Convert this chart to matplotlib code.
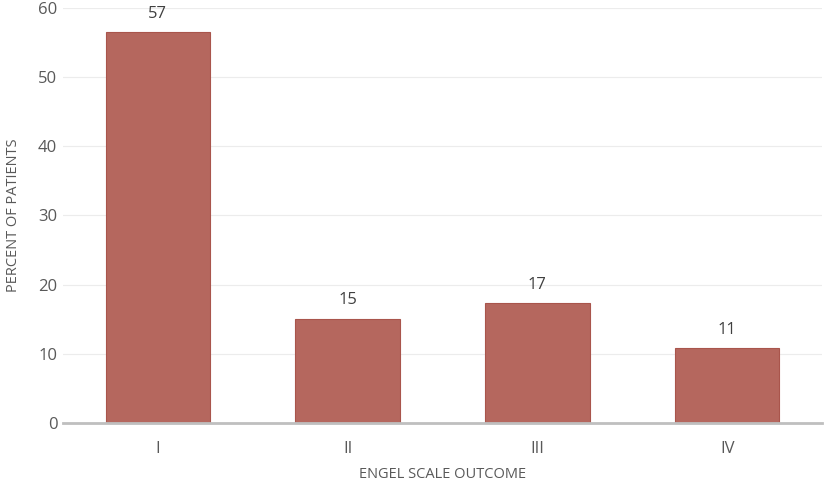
import matplotlib.pyplot as plt

categories = ['I', 'II', 'III', 'IV']
percent = [56.5, 15.1, 17.3, 10.8]
labels = ['57', '15', '17', '11']

plt.rcParams['font.family'] = ['Open Sans', 'DejaVu Sans']
text_color = '#595959'

fig = plt.figure(figsize=(8.27, 4.86), dpi=100)
ax = fig.add_axes([0.076, 0.1296, 0.918, 0.854])

x = range(len(categories))
bars = ax.bar(x, percent, width=0.55, color='#B5675E', edgecolor='#A9554C', linewidth=0.8, zorder=3)
for b, lab in zip(bars, labels):
    ax.text(b.get_x() + b.get_width() / 2, b.get_height() + 1.5, lab,
            ha='center', va='bottom', fontsize=12, color='#404040')

ax.set_xlim(-0.5, 3.5)
ax.set_ylim(0, 60)
ax.set_yticks(range(0, 61, 10))
ax.set_xticks(list(x))
ax.set_xticklabels(categories)
ax.grid(axis='y', color='#ECECEC', linewidth=0.8, zorder=0)
ax.tick_params(axis='x', length=0, labelsize=12, colors=text_color, pad=13)
ax.tick_params(axis='y', length=0, labelsize=12, colors=text_color, pad=4)
for s in ['top', 'right', 'left']:
    ax.spines[s].set_visible(False)
ax.spines['bottom'].set_color('#BFBFBF')
ax.spines['bottom'].set_linewidth(2)
ax.spines['bottom'].set_zorder(4)

ax.set_xlabel('ENGEL SCALE OUTCOME', fontsize=10.5, color=text_color, labelpad=7)
ax.set_ylabel('PERCENT OF PATIENTS', fontsize=10.5, color=text_color, labelpad=12)

fig.savefig('out.png', dpi=100)
